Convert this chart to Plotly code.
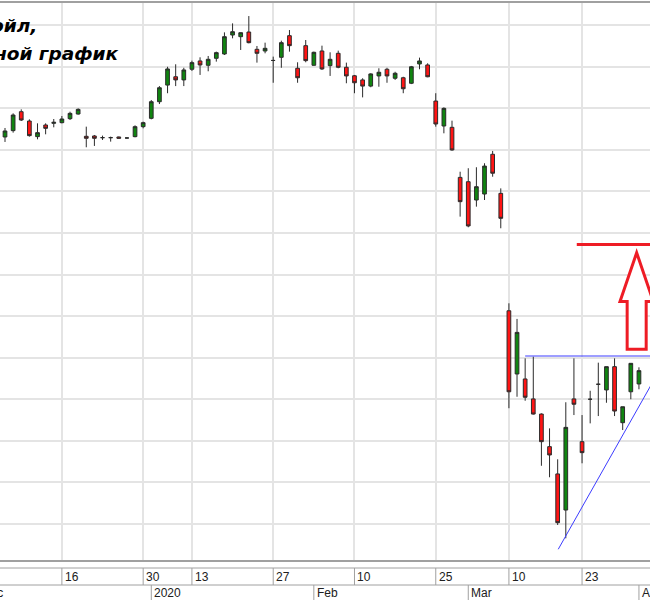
import plotly.graph_objects as go

# ---------------- data ----------------
dates = [
    "2019-12-05", "2019-12-06", "2019-12-09", "2019-12-10", "2019-12-11", "2019-12-12", "2019-12-13",
    "2019-12-16", "2019-12-17", "2019-12-18", "2019-12-19", "2019-12-20",
    "2019-12-23", "2019-12-24", "2019-12-25", "2019-12-26", "2019-12-27", "2019-12-30",
    "2020-01-03", "2020-01-06", "2020-01-08", "2020-01-09", "2020-01-10",
    "2020-01-13", "2020-01-14", "2020-01-15", "2020-01-16", "2020-01-17",
    "2020-01-20", "2020-01-21", "2020-01-22", "2020-01-23", "2020-01-24",
    "2020-01-27", "2020-01-28", "2020-01-29", "2020-01-30", "2020-01-31",
    "2020-02-03", "2020-02-04", "2020-02-05", "2020-02-06", "2020-02-07",
    "2020-02-10", "2020-02-11", "2020-02-12", "2020-02-13", "2020-02-14",
    "2020-02-17", "2020-02-18", "2020-02-19", "2020-02-20", "2020-02-21",
    "2020-02-25", "2020-02-26", "2020-02-27", "2020-02-28",
    "2020-03-02", "2020-03-03", "2020-03-04", "2020-03-05", "2020-03-06",
    "2020-03-10", "2020-03-11", "2020-03-12", "2020-03-13",
    "2020-03-16", "2020-03-17", "2020-03-18", "2020-03-19", "2020-03-20",
    "2020-03-23", "2020-03-24", "2020-03-25", "2020-03-26", "2020-03-27",
    "2020-03-30", "2020-03-31", "2020-04-01",
]
opens = [
    6327, 6365, 6479, 6423, 6329, 6399, 6409,
    6413, 6437, 6465, 6331, 6333,
    6323, 6323, 6327, 6321, 6329, 6389,
    6439, 6539, 6639, 6689, 6670,
    6734, 6784, 6758, 6800, 6826,
    6940, 6930, 6958, 6854, 6844,
    6787, 6806, 6936, 6740, 6876,
    6758, 6844, 6756, 6830, 6746,
    6695, 6670, 6633, 6694, 6734,
    6680, 6683, 6650, 6766, 6760,
    6543, 6393, 6385, 6084,
    6058, 5948, 5984, 6223, 5988,
    5282, 4902, 4872, 4752,
    4661, 4465, 4301, 4084, 4752,
    4495, 4750, 4840, 4806, 4946,
    4609, 4795, 4842,
]
highs = [
    6381, 6469, 6493, 6433, 6409, 6409, 6435,
    6453, 6479, 6499, 6389, 6339,
    6335, 6329, 6329, 6323, 6397, 6419,
    6549, 6633, 6749, 6764, 6743,
    6786, 6806, 6814, 6840, 6956,
    7010, 6956, 7054, 6874, 6894,
    6810, 6906, 6970, 6776, 6910,
    6840, 6876, 6836, 6846, 6774,
    6700, 6680, 6710, 6740, 6743,
    6719, 6689, 6754, 6804, 6770,
    6590, 6505, 6425, 6118,
    6139, 6145, 6169, 6243, 6018,
    5327, 5233, 4996, 5006,
    4665, 4575, 4389, 4732, 4996,
    4655, 4801, 4970, 4946, 4996,
    4705, 4966, 4942,
]
lows = [
    6297, 6353, 6423, 6329, 6313, 6343, 6385,
    6409, 6429, 6461, 6265, 6273,
    6309, 6299, 6317, 6317, 6325, 6379,
    6433, 6525, 6590, 6633, 6633,
    6724, 6700, 6722, 6780, 6820,
    6920, 6850, 6890, 6774, 6830,
    6653, 6743, 6840, 6653, 6776,
    6756, 6730, 6694, 6740, 6650,
    6590, 6565, 6626, 6629, 6653,
    6670, 6590, 6645, 6734, 6686,
    6389, 6349, 6244, 5848,
    5784, 5908, 5948, 6088, 5778,
    4696, 4765, 4741, 4658,
    4350, 4281, 3994, 3914, 4655,
    4365, 4605, 4649, 4729, 4649,
    4565, 4750, 4810,
]
closes = [
    6363, 6459, 6429, 6335, 6353, 6379, 6415,
    6435, 6469, 6493, 6319, 6319,
    6323, 6323, 6319, 6321, 6389, 6413,
    6539, 6623, 6736, 6670, 6730,
    6774, 6760, 6794, 6834, 6930,
    6960, 6954, 6894, 6830, 6860,
    6787, 6894, 6876, 6683, 6786,
    6836, 6736, 6794, 6746, 6694,
    6653, 6633, 6706, 6716, 6694,
    6710, 6617, 6749, 6784, 6689,
    6405, 6499, 6249, 5938,
    5792, 6028, 6152, 6109, 5838,
    4795, 5152, 4762, 4661,
    4495, 4415, 4008, 4581, 4720,
    4429, 4750, 4840, 4946, 4679,
    4705, 4966, 4922,
]

day_ticks = ["2019-12-16", "2019-12-30", "2020-01-13", "2020-01-27",
             "2020-02-10", "2020-02-25", "2020-03-10", "2020-03-23"]
day_labels = ["16", "30", "13", "27", "10", "25", "10", "23"]
month_ticks = ["2020-01-03", "2020-02-03", "2020-03-02", "2020-04-01"]
month_labels = ["2020", "Feb", "Mar", "Apr"]
first_month_label = "Dec"

title_lines = ["Лукойл,", "дневной график"]

# drawn analysis objects (price levels / positions on the day axis)
resistance_level = 5010
resistance_from = "2020-03-12"
target_level = 5680
target_from = 70.35
trend_x = [68.07, 80.5]
trend_y = [3848, 4923]
arrow_center = 77.72
arrow_tip = 5631
arrow_head_base = 5337
arrow_bottom = 5050
arrow_head_half = 2.05
arrow_shaft_half = 1.17

# ---------------- figure ----------------
W, H = 650, 600
MT, MB = 3, 40
PH = H - MT - MB


def py(pix):
    """paper y for a pixel row (for the axis strip under the plot)"""
    return (H - MB - pix) / PH


GRID = "#e4e4e4"
SEP = "#a0a0a0"
RED = "#ee1c25"
BLUE = "#3c3cff"

fig = go.Figure()
fig.add_trace(go.Candlestick(
    x=dates, open=opens, high=highs, low=lows, close=closes,
    increasing=dict(line=dict(color="#2b2b2b", width=1), fillcolor="#108510"),
    decreasing=dict(line=dict(color="#2b2b2b", width=1), fillcolor="#ff1414"),
    whiskerwidth=0, hoverinfo="skip", showlegend=False,
))

shapes = []
# white box behind the title
shapes.append(dict(type="rect", xref="paper", yref="paper", x0=-0.2, x1=140 / W,
                   y0=py(65), y1=1.0, fillcolor="white", line=dict(width=0), layer="between"))
# resistance line
shapes.append(dict(type="line", xref="x", yref="y", x0=dates.index(resistance_from), x1=84,
                   y0=resistance_level, y1=resistance_level, line=dict(color=BLUE, width=1)))
# trend line
shapes.append(dict(type="line", xref="x", yref="y", x0=trend_x[0], x1=trend_x[1],
                   y0=trend_y[0], y1=trend_y[1], line=dict(color=BLUE, width=1)))
# target line
shapes.append(dict(type="line", xref="x", yref="y", x0=target_from, x1=84,
                   y0=target_level, y1=target_level, line=dict(color=RED, width=3)))
# hollow up arrow
c, hh, sh = arrow_center, arrow_head_half, arrow_shaft_half
path = (f"M {c},{arrow_tip} L {c + hh},{arrow_head_base} L {c + sh},{arrow_head_base} "
        f"L {c + sh},{arrow_bottom} L {c - sh},{arrow_bottom} L {c - sh},{arrow_head_base} "
        f"L {c - hh},{arrow_head_base} Z")
shapes.append(dict(type="path", xref="x", yref="y", path=path, fillcolor="white",
                   line=dict(color=RED, width=3)))
# axis strip lines
for pix in (568, 585):
    shapes.append(dict(type="line", xref="paper", yref="paper", x0=0, x1=1, y0=py(pix), y1=py(pix),
                       line=dict(color=SEP, width=1)))
for d in day_ticks:
    i = dates.index(d)
    shapes.append(dict(type="line", xref="x", yref="paper", x0=i, x1=i, y0=py(568), y1=py(585),
                       line=dict(color=SEP, width=1)))
for d in month_ticks:
    i = dates.index(d)
    shapes.append(dict(type="line", xref="x", yref="paper", x0=i, x1=i, y0=py(585), y1=py(600),
                       line=dict(color=SEP, width=1)))

annotations = []
title_font = dict(family="DejaVu Sans", size=18.5, color="#000000")
# title lines, right ends anchored (left parts run off the left edge like the reference crop)
annotations.append(dict(xref="paper", yref="paper", x=39 / W, y=py(26), xanchor="right",
                        yanchor="middle", text=f"<b><i>{title_lines[0]}</i></b>",
                        showarrow=False, font=title_font))
annotations.append(dict(xref="paper", yref="paper", x=121 / W, y=py(53), xanchor="right",
                        yanchor="middle", text=f"<b><i>{title_lines[1]}</i></b>",
                        showarrow=False, font=title_font))
lab_font = dict(family="Liberation Sans", size=12, color="#202020")
for d, t in zip(day_ticks, day_labels):
    annotations.append(dict(xref="x", yref="paper", x=dates.index(d), y=py(577), xanchor="left",
                            yanchor="middle", xshift=1, text=t, showarrow=False, font=lab_font))
for d, t in zip(month_ticks, month_labels):
    annotations.append(dict(xref="x", yref="paper", x=dates.index(d), y=py(592.5), xanchor="left",
                            yanchor="middle", xshift=1, text=t, showarrow=False, font=lab_font))
annotations.append(dict(xref="x", yref="paper", x=0, y=py(592.5), xanchor="right",
                        yanchor="middle", text=first_month_label, showarrow=False, font=lab_font))

fig.update_layout(
    width=W, height=H,
    margin=dict(l=0, r=0, t=MT, b=MB, pad=0),
    paper_bgcolor="white", plot_bgcolor="white",
    showlegend=False, boxgap=0.35,
    shapes=shapes, annotations=annotations,
    xaxis=dict(type="category", range=[-0.615, 79.36], tickvals=day_ticks, showticklabels=False,
               ticks="", showgrid=True, gridcolor=GRID, gridwidth=2, zeroline=False,
               showline=True, linecolor=SEP, linewidth=2, mirror=True,
               rangeslider=dict(visible=False), fixedrange=True),
    yaxis=dict(range=[3783.5, 7132.5], tick0=4000, dtick=250, showticklabels=False, ticks="",
               showgrid=True, gridcolor=GRID, gridwidth=2, zeroline=False, showline=False,
               fixedrange=True),
)

fig.write_html("out.html", config={"staticPlot": True},
               post_script="document.body.style.margin='0';document.body.style.overflow='hidden';")
